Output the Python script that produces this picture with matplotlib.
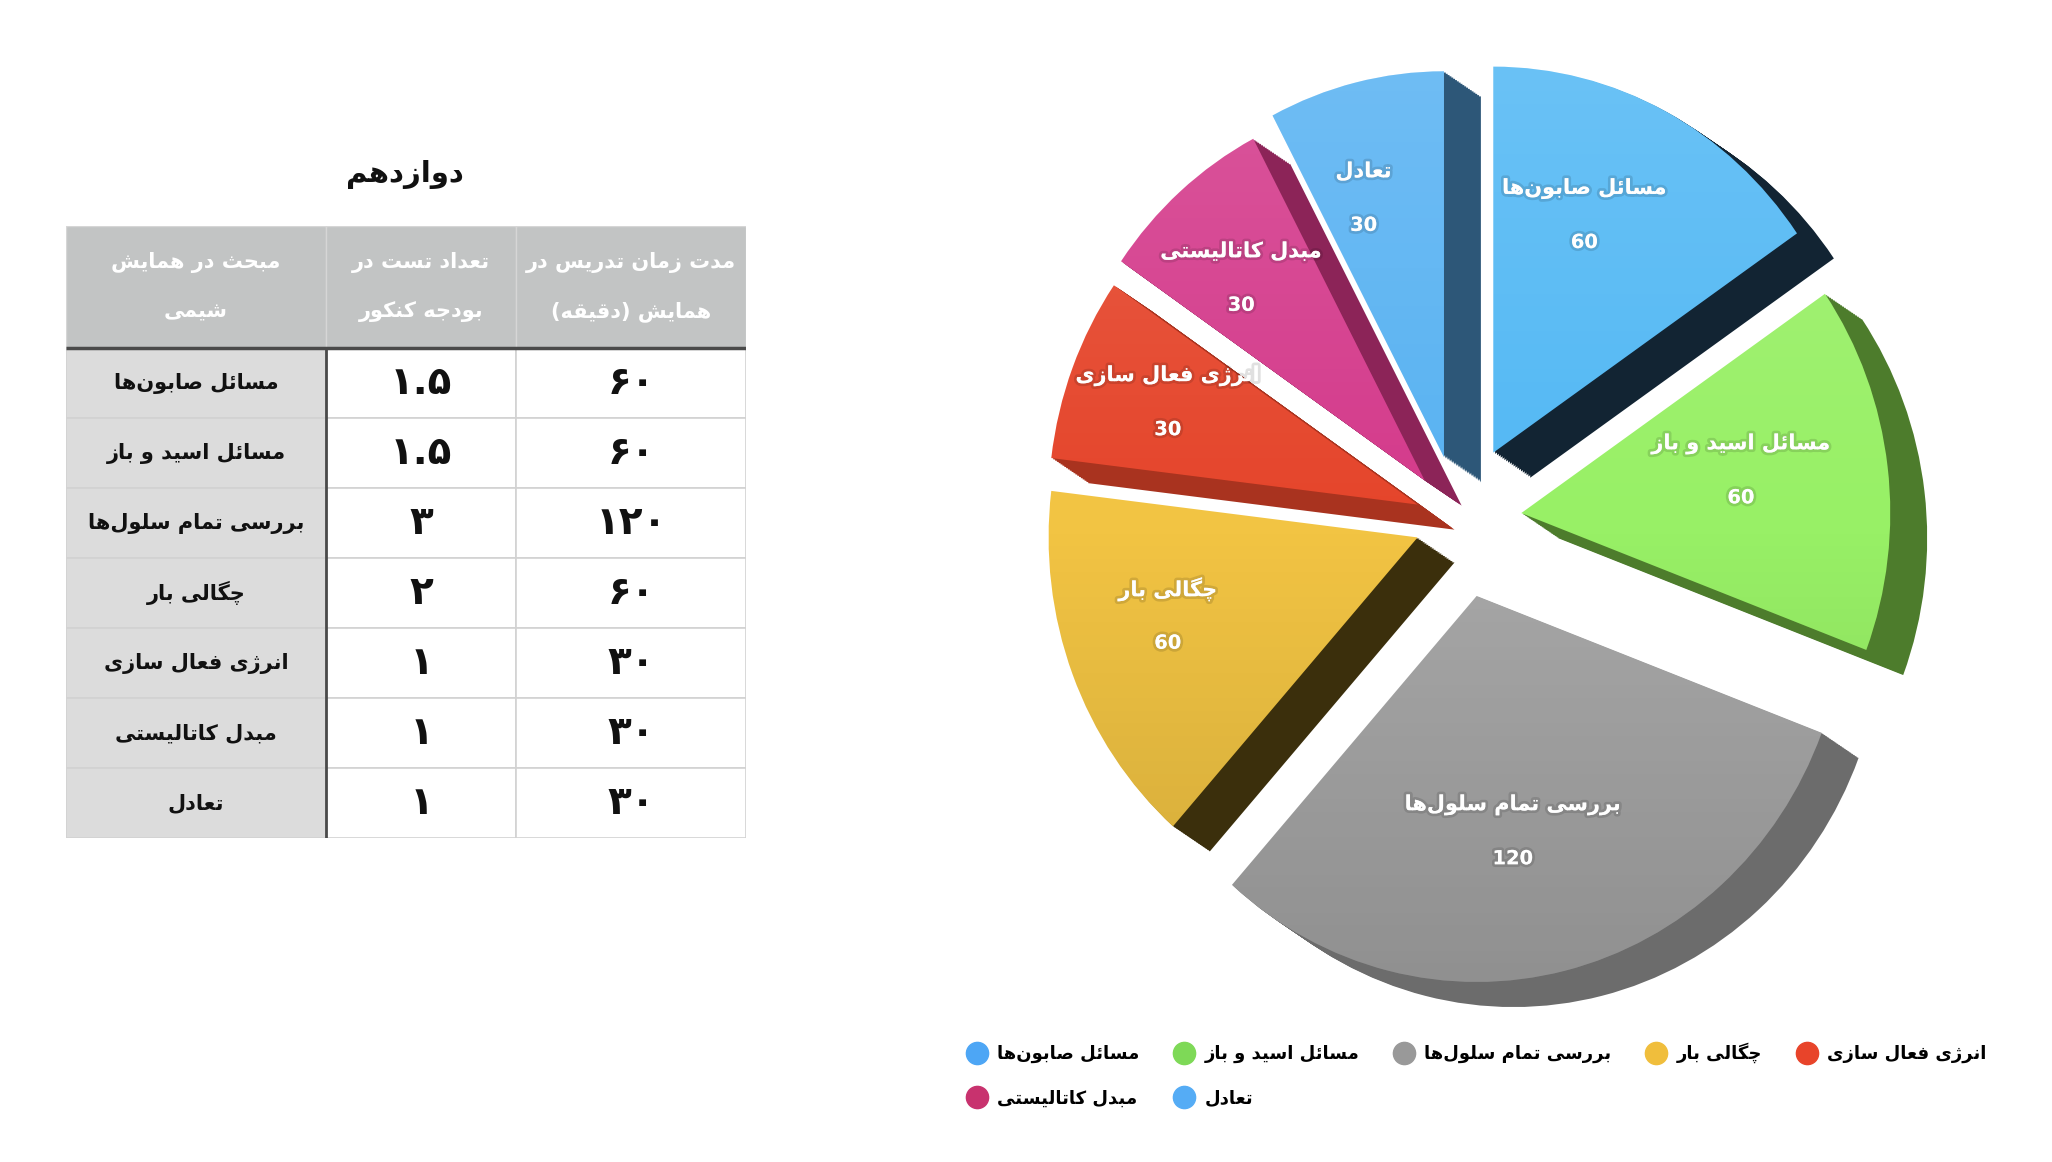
import re
import numpy as np
import matplotlib
matplotlib.use('Agg')
import matplotlib.pyplot as plt
from matplotlib.patches import Wedge, Rectangle
from matplotlib.lines import Line2D
import matplotlib.patheffects as pe

# ---- data ----
title = 'دوازدهم'
headers = ['مبحث در همایش\nشیمی', 'تعداد تست در\nبودجه کنکور', 'مدت زمان تدریس در\nهمایش (دقیقه)']
topics = ['مسائل صابون‌ها', 'مسائل اسید و باز', 'بررسی تمام سلول‌ها', 'چگالی بار',
          'انرژی فعال سازی', 'مبدل کاتالیستی', 'تعادل']
tests = [1.5, 1.5, 3, 2, 1, 1, 1]
minutes = [60, 60, 120, 60, 30, 30, 30]

pie_colors = ['#52B8F4', '#98F066', '#A8A8A8', '#F2C443', '#E5452B', '#D43A8B', '#58B2F2']
side_colors = ['#122433', '#4D7C2C', '#6C6C6C', '#3B2F0C', '#A9331F', '#8C2458', '#2D5778']
legend_colors = ['#4DA6F5', '#7ED957', '#999999', '#F0BE3C', '#E8442A', '#C8326E', '#55ACF5']

W, H = 2052, 1162
FONT = ['DejaVu Sans']


# ---- minimal persian shaping (matplotlib has no RTL / joining) ----
def _f(start, n):
    return tuple(chr(start + i) for i in range(n))

FORMS = {
    'ء': _f(0xFE80, 1), 'آ': _f(0xFE81, 2), 'أ': _f(0xFE83, 2), 'ؤ': _f(0xFE85, 2),
    'إ': _f(0xFE87, 2), 'ئ': _f(0xFE89, 4), 'ا': _f(0xFE8D, 2), 'ب': _f(0xFE8F, 4),
    'ة': _f(0xFE93, 2), 'ت': _f(0xFE95, 4), 'ث': _f(0xFE99, 4), 'ج': _f(0xFE9D, 4),
    'ح': _f(0xFEA1, 4), 'خ': _f(0xFEA5, 4), 'د': _f(0xFEA9, 2), 'ذ': _f(0xFEAB, 2),
    'ر': _f(0xFEAD, 2), 'ز': _f(0xFEAF, 2), 'س': _f(0xFEB1, 4), 'ش': _f(0xFEB5, 4),
    'ص': _f(0xFEB9, 4), 'ض': _f(0xFEBD, 4), 'ط': _f(0xFEC1, 4), 'ظ': _f(0xFEC5, 4),
    'ع': _f(0xFEC9, 4), 'غ': _f(0xFECD, 4), 'ف': _f(0xFED1, 4), 'ق': _f(0xFED5, 4),
    'ك': _f(0xFED9, 4), 'ل': _f(0xFEDD, 4), 'م': _f(0xFEE1, 4), 'ن': _f(0xFEE5, 4),
    'ه': _f(0xFEE9, 4), 'و': _f(0xFEED, 2), 'ى': _f(0xFEEF, 2), 'ي': _f(0xFEF1, 4),
    'پ': _f(0xFB56, 4), 'چ': _f(0xFB7A, 4), 'ژ': _f(0xFB8A, 2), 'ک': _f(0xFB8E, 4),
    'گ': _f(0xFB92, 4), 'ی': _f(0xFBFC, 4),
}


def shape(line):
    out = []
    for i, c in enumerate(line):
        f = FORMS.get(c)
        if f is None:
            if c != '\u200c':
                out.append(c)
            continue
        p = line[i - 1] if i > 0 else ''
        q = line[i + 1] if i + 1 < len(line) else ''
        jp = len(FORMS.get(p, ())) == 4 and len(f) > 1
        jn = len(f) == 4 and len(FORMS.get(q, ())) > 1
        if len(f) == 1:
            out.append(f[0])
        elif len(f) == 2:
            out.append(f[1] if jp else f[0])
        else:
            out.append(f[3] if jp and jn else f[1] if jp else f[2] if jn else f[0])
    runs = re.findall(r'[0-9\u06f0-\u06f9.]+|.', ''.join(out))
    mirror = {'(': ')', ')': '('}
    return ''.join(mirror.get(r, r) for r in reversed(runs))


def fa(text):
    return '\n'.join(shape(l) for l in text.split('\n'))


def fa_num(v):
    return f'{v:g}'.translate(str.maketrans('0123456789', '۰۱۲۳۴۵۶۷۸۹'))


fig = plt.figure(figsize=(W / 100, H / 100), dpi=100)
fig.patch.set_facecolor('white')

# ---- title + table ----
fig.text(405 / W, 1 - 174 / H, fa(title), family=FONT, weight='bold', size=21,
         ha='center', va='center', color='#111111')

col_w = [260, 190, 230]
head_h, row_h = 122, 70
xs = np.concatenate([[0], np.cumsum(col_w)])
total_h = head_h + len(topics) * row_h
ax_t = fig.add_axes([66 / W, (H - 226 - total_h) / H, xs[-1] / W, total_h / H])
ax_t.set_xlim(0, xs[-1])
ax_t.set_ylim(total_h, 0)
ax_t.axis('off')

for j, h in enumerate(headers):
    ax_t.add_patch(Rectangle((xs[j], 0), col_w[j], head_h, fc='#C2C4C4', ec='#D6D6D6', lw=1))
    ax_t.text(xs[j] + col_w[j] / 2, head_h / 2, fa(h), family=FONT, weight='bold', size=15,
              color='white', ha='center', va='center', linespacing=2.8)

columns = [[fa(t) for t in topics], [fa_num(v) for v in tests], [fa_num(v) for v in minutes]]
for i in range(len(topics)):
    y0 = head_h + i * row_h
    for j in range(3):
        ax_t.add_patch(Rectangle((xs[j], y0), col_w[j], row_h,
                                 fc='#DCDCDC' if j == 0 else 'white', ec='#D2D2D2', lw=1.2))
        ax_t.text(xs[j] + col_w[j] / 2, y0 + row_h / 2, columns[j][i], family=FONT,
                  weight='bold', size=15 if j == 0 else 28, color='#111111',
                  ha='center', va='center')
ax_t.plot([0, xs[-1]], [head_h, head_h], color='#4A4A4A', lw=2.5, solid_capstyle='butt')
ax_t.plot([xs[1], xs[1]], [head_h, total_h], color='#4A4A4A', lw=2, solid_capstyle='butt')

# ---- exploded pie with fake depth ----
ax_p = fig.add_axes([809 / W, 91 / H, 1300 / W, 1100 / H])
xl, yl = 650 / 369, 550 / 386

explode = [0.2, 0.17, 0.2, 0.12, 0.12, 0.14, 0.17]
wedges, _ = ax_p.pie(minutes, explode=explode, colors=pie_colors, startangle=90,
                     counterclock=False, radius=1, wedgeprops=dict(linewidth=0, zorder=3))

depth = np.array([0.10, -0.065])
for w, sc in zip(wedges, side_colors):
    cx, cy = w.center
    for t in np.linspace(0.05, 1, 20):
        ax_p.add_patch(Wedge((cx + t * depth[0], cy + t * depth[1]), w.r, w.theta1, w.theta2,
                             fc=sc, lw=0, zorder=1))

# soft light-to-dark shading on the top faces
shade = np.zeros((256, 1, 4))
k = np.linspace(0, 1, 256)
shade[:, 0, :3] = (k < 0.5)[:, None] * 1.0
shade[:, 0, 3] = np.abs(k - 0.5) * 0.34
for w in wedges:
    im = ax_p.imshow(shade, extent=[-xl, xl, -yl, yl], aspect='auto', zorder=4,
                     interpolation='bilinear')
    im.set_clip_path(w)

# labels sit on the tilted top plane, so nudge them a little up-left
shadow = [pe.withStroke(linewidth=4, foreground=(0, 0, 0, 0.12))]
for w, name, val in zip(wedges, topics, minutes):
    cx, cy = w.center
    mid = np.radians((w.theta1 + w.theta2) / 2)
    x = cx + 0.66 * np.cos(mid) - 0.06
    y = cy + 0.66 * np.sin(mid) + 0.03
    ax_p.text(x, y + 0.07, fa(name), family=FONT, weight='bold', size=15, color='white',
              ha='center', va='center', zorder=5, path_effects=shadow)
    ax_p.text(x, y - 0.07, str(val), family=FONT, weight='bold', size=14, color='white',
              ha='center', va='center', zorder=5, path_effects=shadow)

ax_p.set_aspect('auto')
ax_p.set_xlim(-xl, xl)
ax_p.set_ylim(-yl, yl)
ax_p.axis('off')

# ---- legend (row-wise order in 5 columns) ----
handles = [Line2D([], [], marker='o', ls='', markersize=16, mfc=c, mec=c) for c in legend_colors]
labels = [fa(t) for t in topics]
order = [0, 5, 1, 6, 2, 3, 4]
fig.legend([handles[k] for k in order], [labels[k] for k in order], ncol=5,
           loc='center left', bbox_to_anchor=(968 / W, 1 - 1075 / H), frameon=False,
           prop=dict(family=FONT, weight='bold', size=13), handlelength=1.0,
           handletextpad=0.6, columnspacing=2.0, labelspacing=1.45,
           borderpad=0, borderaxespad=0)

fig.savefig('out.png', dpi=100)
